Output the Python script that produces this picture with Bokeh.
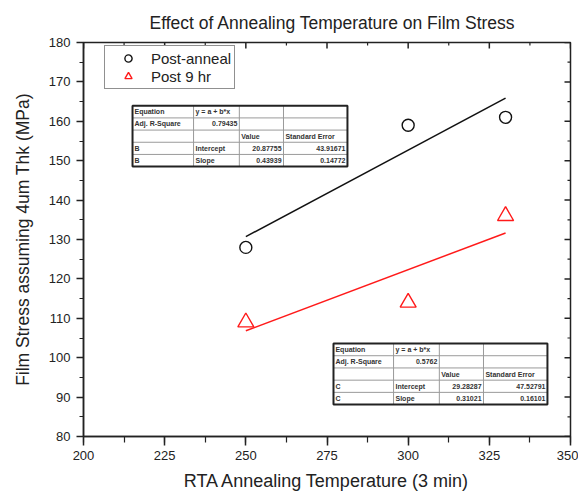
import math
from bokeh.plotting import figure
from bokeh.models import SingleIntervalTicker, Legend, LegendItem, Range1d
from bokeh.core.properties import value
from bokeh.embed import file_html
from bokeh.resources import INLINE

# ---------------- data ----------------
temps = [250, 300, 330]
post_anneal = [128, 159, 161]
post_9hr = [109, 114, 136]

fit_x = [250, 330]
anneal_intercept = 20.87755
anneal_slope = 0.43939
hr_intercept = 29.28287
hr_slope = 0.31021

x_ticks = [200, 225, 250, 275, 300, 325, 350]
y_ticks = [80, 90, 100, 110, 120, 130, 140, 150, 160, 170, 180]

title_text = "Effect of Annealing Temperature on Film Stress"

table1 = [
    ["Equation", "y = a + b*x", "", ""],
    ["Adj. R-Square", "0.79435", "", ""],
    ["", "", "Value", "Standard Error"],
    ["B", "Intercept", "20.87755", "43.91671"],
    ["B", "Slope", "0.43939", "0.14772"],
]
table2 = [
    ["Equation", "y = a + b*x", "", ""],
    ["Adj. R-Square", "0.5762", "", ""],
    ["", "", "Value", "Standard Error"],
    ["C", "Intercept", "29.28287", "47.52791"],
    ["C", "Slope", "0.31021", "0.16101"],
]
table_align = [
    ["l", "l", "l", "l"],
    ["l", "r", "l", "l"],
    ["l", "l", "l", "l"],
    ["l", "l", "r", "r"],
    ["l", "l", "r", "r"],
]

FONT = "Liberation Sans"
TXT = "#222222"
AX = "#222222"

x0, x1 = x_ticks[0], x_ticks[-1]
y0, y1 = y_ticks[0], y_ticks[-1]

p = figure(width=578, height=494, x_range=Range1d(x0, x1), y_range=Range1d(y0, y1),
           output_backend="svg", toolbar_location=None,
           min_border_left=83, min_border_right=8, min_border_top=42, min_border_bottom=58,
           x_axis_label="RTA Annealing Temperature (3 min)",
           y_axis_label="Film Stress assuming 4um Thk (MPa)")
p.background_fill_color = "white"
p.border_fill_color = "white"
p.xgrid.visible = False
p.ygrid.visible = False
p.outline_line_color = AX
p.outline_line_width = 1.5

p.title.text = title_text
p.title.align = "left"
p.title.offset = 66
p.title.text_font = FONT
p.title.text_font_size = "17.5px"
p.title.text_font_style = "normal"
p.title.text_color = TXT
p.title.standoff = 20

for ax, tk in ((p.xaxis[0], SingleIntervalTicker(interval=25, num_minor_ticks=2)),
               (p.yaxis[0], SingleIntervalTicker(interval=10, num_minor_ticks=2))):
    ax.ticker = tk
    ax.axis_line_color = AX
    ax.axis_line_width = 1.5
    ax.major_tick_line_color = AX
    ax.major_tick_line_width = 1.5
    ax.minor_tick_line_color = AX
    ax.minor_tick_line_width = 1.2
    ax.major_tick_in = 0
    ax.minor_tick_in = 0
    ax.major_label_text_font = FONT
    ax.major_label_text_font_size = "13px"
    ax.major_label_text_color = TXT
    ax.axis_label_text_font = FONT
    ax.axis_label_text_font_style = "normal"
    ax.axis_label_text_color = TXT

p.xaxis[0].axis_label_text_font_size = "18px"
p.yaxis[0].axis_label_text_font_size = "17.5px"
p.xaxis[0].major_tick_out = 9
p.xaxis[0].minor_tick_out = 6
p.xaxis[0].major_label_standoff = 5
p.xaxis[0].axis_label_standoff = 8
p.yaxis[0].major_tick_out = 7
p.yaxis[0].minor_tick_out = 4
p.yaxis[0].major_label_standoff = 6
p.yaxis[0].axis_label_standoff = 13

# inward ticks on top and right frame edges (half of each dash is clipped by the frame)
x_minor = [(a + b) / 2 for a, b in zip(x_ticks[:-1], x_ticks[1:])]
y_minor = [(a + b) / 2 for a, b in zip(y_ticks[:-1], y_ticks[1:])]
p.scatter(x_ticks, [y1] * len(x_ticks), marker="dash", angle=math.pi / 2, size=12,
          line_color=AX, line_width=1.5)
p.scatter(x_minor, [y1] * len(x_minor), marker="dash", angle=math.pi / 2, size=6,
          line_color=AX, line_width=1.2)
p.scatter([x1] * len(y_ticks), y_ticks, marker="dash", size=12,
          line_color=AX, line_width=1.5)
p.scatter([x1] * len(y_minor), y_minor, marker="dash", size=6,
          line_color=AX, line_width=1.2)

# fit lines
anneal_fit = [anneal_intercept + anneal_slope * x for x in fit_x]
hr_fit = [hr_intercept + hr_slope * x for x in fit_x]
p.line(fit_x, anneal_fit, line_color="#111111", line_width=1.5)
p.line(fit_x, hr_fit, line_color="#ff1a1a", line_width=1.5)

# markers
r1 = p.scatter(temps, post_anneal, marker="circle", size=12, fill_color=None,
               line_color="#111111", line_width=1.4)
r2 = p.scatter(temps, post_9hr, marker="triangle", size=16, fill_color=None,
               line_color="#ff1a1a", line_width=1.4)

legend = Legend(items=[LegendItem(label="Post-anneal", renderers=[r1]),
                       LegendItem(label="Post 9 hr", renderers=[r2])],
                location=(21, 347), orientation="vertical")
legend.label_text_font = FONT
legend.label_text_font_size = "15px"
legend.label_text_color = TXT
legend.border_line_color = AX
legend.border_line_width = 1.5
legend.background_fill_alpha = 1.0
legend.padding = 3
legend.spacing = 0
legend.margin = 0
legend.glyph_width = 40
legend.glyph_height = 18
legend.label_height = 18
legend.label_standoff = 3
legend.label_text_baseline = "middle"
p.add_layout(legend, "center")


def draw_table(rows, col_edges, y_top, y_bot):
    n = len(rows)
    row_h = (y_top - y_bot) / n
    xs0, ys0, xs1, ys1 = [], [], [], []
    for i in range(1, n):
        y = y_top - i * row_h
        xs0.append(col_edges[0]); xs1.append(col_edges[-1]); ys0.append(y); ys1.append(y)
    for c in col_edges[1:-1]:
        xs0.append(c); xs1.append(c); ys0.append(y_bot); ys1.append(y_top)
    p.segment(xs0, ys0, xs1, ys1, line_color="#9a9a9a", line_width=1)
    p.quad(left=[col_edges[0]], right=[col_edges[-1]], top=[y_top], bottom=[y_bot],
           fill_color=None, line_color=AX, line_width=2)
    tx, ty, tt, ta = [], [], [], []
    dx = 0.6
    for i, row in enumerate(rows):
        yc = y_top - (i + 0.5) * row_h
        for j, cell in enumerate(row):
            if not cell:
                continue
            if table_align[i][j] == "l":
                tx.append(col_edges[j] + dx); ta.append("left")
            else:
                tx.append(col_edges[j + 1] - dx); ta.append("right")
            ty.append(yc); tt.append(cell)
    p.text(x=tx, y=ty, text=tt, text_align=ta, text_baseline="middle",
           text_font=value(FONT), text_font_size="7px", text_color="#333333",
           text_font_style="bold")


draw_table(table1, [215.1, 233.9, 248.0, 261.6, 281.3], 163.95, 148.5)
draw_table(table2, [277.0, 295.5, 309.6, 323.2, 342.9], 103.6, 88.1)

open("out.html", "w").write(file_html(p, INLINE))
